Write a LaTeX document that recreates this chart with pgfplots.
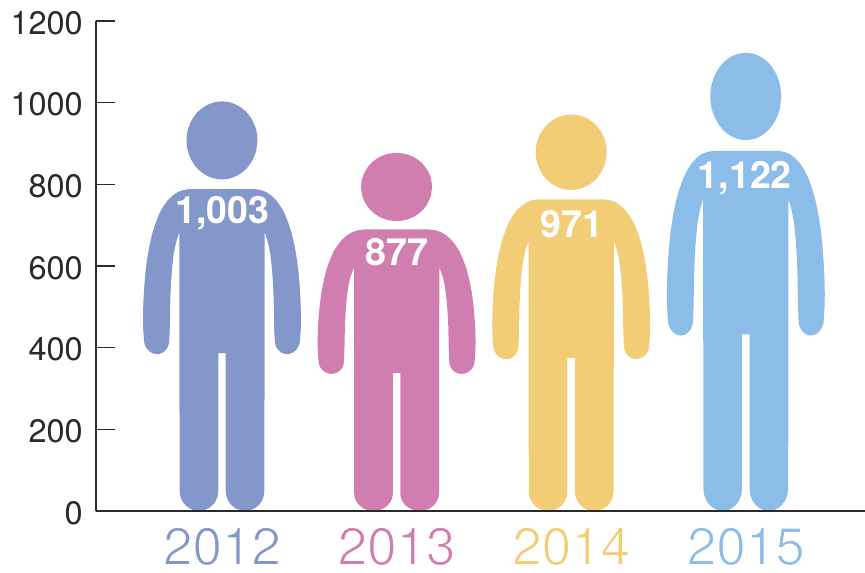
\documentclass[border=0pt]{standalone}
\usepackage{fontspec}
\setmainfont{TeX Gyre Heros}
\usepackage{pgfplots}
\usepackage{pgfplotstable}
\pgfplotsset{compat=1.18}
\definecolor{cA}{HTML}{8497CB}
\definecolor{cB}{HTML}{CF7EAF}
\definecolor{cC}{HTML}{F2CD76}
\definecolor{cD}{HTML}{8CBCE8}
\definecolor{axc}{HTML}{2A2A2A}
\newcommand{\thin}[2]{\textcolor{#1}{\special{pdf:code q 2 Tr 1.3 w 1 1 1 RG}#2\special{pdf:code Q}}}
% person outline: dx in px from centre, h in px for a figure 410 px tall
\pgfplotstableread{
dx h
0 322.3
32.7 322.3
38.7 321.3
44.3 319.3
49.5 315.7
54.3 311
58.7 304.8
62.7 297.7
66.4 288.2
69.8 277.7
72.7 264.7
75.1 251
76.8 236
78 221
78.7 207
79 194.3
78.8 183
78 171
77.5 167.4
76 164
74 161.1
71.3 158.9
68.2 157.5
65 157
61.7 157.5
58.8 158.9
56.3 161.1
54.3 164
53.1 167.4
52.7 171
52.2 183
52 194.3
51.7 211
51 227.7
49.9 243
48.3 257.7
45.9 269
42.7 279.3
42.4 20
41.7 14.8
39.8 10
36.7 5.9
32.7 2.7
28 0.7
23.05 0
18 0.7
13.4 2.7
9.4 5.9
6.3 10
4.4 14.8
3.7 20
3.7 158
-3.7 158
-3.7 20
-4.4 14.8
-6.3 10
-9.4 5.9
-13.4 2.7
-18 0.7
-23.05 0
-28 0.7
-32.7 2.7
-36.7 5.9
-39.8 10
-41.7 14.8
-42.4 20
-42.7 279.3
-45.9 269
-48.3 257.7
-49.9 243
-51 227.7
-51.7 211
-52 194.3
-52.2 183
-52.7 171
-53.1 167.4
-54.3 164
-56.3 161.1
-58.8 158.9
-61.7 157.5
-65 157
-68.2 157.5
-71.3 158.9
-74 161.1
-76 164
-77.5 167.4
-78 171
-78.8 183
-79 194.3
-78.7 207
-78 221
-76.8 236
-75.1 251
-72.7 264.7
-69.8 277.7
-66.4 288.2
-62.7 297.7
-58.7 304.8
-54.3 311
-49.5 315.7
-44.3 319.3
-38.7 321.3
-32.7 322.3
}\bodyT
\pgfplotstableread{
dx h
35.5 371
34.3 381.1
30.7 390.5
25.1 398.6
17.75 404.8
9.2 408.7
0 410
-9.2 408.7
-17.75 404.8
-25.1 398.6
-30.7 390.5
-34.3 381.1
-35.5 371
-34.3 360.9
-30.7 351.5
-25.1 343.4
-17.75 337.2
-9.2 333.3
0 332
9.2 333.3
17.75 337.2
25.1 343.4
30.7 351.5
34.3 360.9
}\headT
\newcommand{\person}[3]{% index, value, colour
  \addplot[fill=#3,draw=none] table[x expr=#1+\thisrow{dx}/174.6, y expr=\thisrow{h}/410*#2] {\bodyT};
  \addplot[fill=#3,draw=none,smooth] table[x expr=#1+\thisrow{dx}/174.6, y expr=\thisrow{h}/410*#2] {\headT} -- cycle;
}
\begin{document}
\begin{tikzpicture}
\path[use as bounding box] (-96pt,-62pt) rectangle (769pt,511pt);
\begin{axis}[
  scale only axis, width=769pt, height=490pt,
  anchor=south west, at={(0pt,0pt)},
  xmin=-0.7216, xmax=3.6827, ymin=0, ymax=1200,
  axis lines=left, axis line style={-, color=axc, line width=1.3pt},
  axis on top,
  ytick={0,200,400,600,800,1000,1200},
  xtick={0,1,2,3},
  xticklabels={\thin{cA}{2012},\thin{cB}{2013},\thin{cC}{2014},\thin{cD}{2015}},
  tick align=inside,
  ytick style={color=axc, line width=1.3pt},
  major tick length=19pt,
  xtick style={draw=none},
  /pgf/number format/assume math mode=true,
  /pgf/number format/1000 sep={},
  yticklabel style={font=\fontsize{32.5}{36}\selectfont, color=axc, inner sep=0pt, xshift=-13pt, yshift=-2pt},
  xticklabel style={font=\fontsize{53}{56}\selectfont, inner sep=0pt, yshift=-16pt},
  clip=false,
]
\person{0}{1003}{cA}
\person{1}{877}{cB}
\person{2}{971}{cC}
\person{3}{1122}{cD}
\node[anchor=base,text=white,font=\fontsize{37.5}{40}\selectfont\bfseries,inner sep=0pt,xshift=0.5pt] at (axis cs:0,705) {1,003};
\node[anchor=base,text=white,font=\fontsize{37.5}{40}\selectfont\bfseries,inner sep=0pt,xshift=0.5pt] at (axis cs:1,600) {877};
\node[anchor=base,text=white,font=\fontsize{37.5}{40}\selectfont\bfseries,inner sep=0pt,xshift=0.5pt] at (axis cs:2,671) {971};
\node[anchor=base,text=white,font=\fontsize{37.5}{40}\selectfont\bfseries,inner sep=0pt,xshift=-1pt] at (axis cs:3,789) {1,122};
\end{axis}
\end{tikzpicture}
\end{document}
